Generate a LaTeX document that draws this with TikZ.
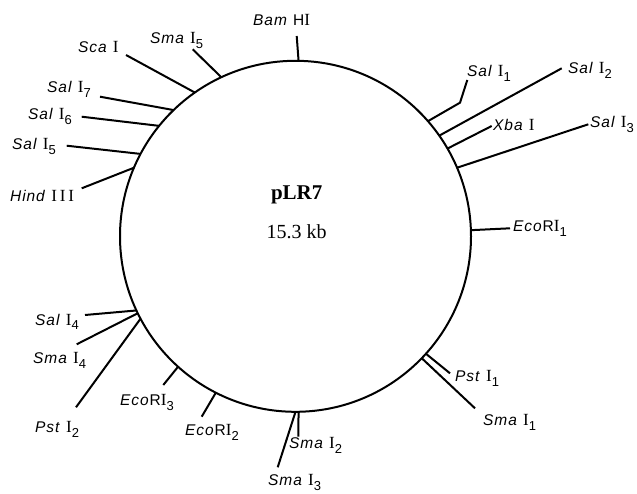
\documentclass[tikz,border=0pt]{standalone}
\usepackage{fontspec}
\setmainfont{Liberation Serif}
\newfontfamily\labfont[LetterSpace=6]{Liberation Sans}
\newfontfamily\romfont[LetterSpace=25,Scale=1.1]{Liberation Serif}
\newcommand{\rI}{{\romfont I}}
\newcommand{\rII}{{\romfont I\,I\,I}}
\newcommand{\subn}[1]{\raisebox{-5pt}{\fontsize{13}{14}\selectfont #1}}
\tikzset{
  tick/.style={line width=2pt},
  lab/.style={font=\labfont\fontsize{15.5}{17}\selectfont, inner sep=0pt, anchor=base west},
  title/.style={font=\fontsize{20}{22}\selectfont, inner sep=0pt}
}
\begin{document}
\begin{tikzpicture}[x=1pt,y=-1pt]
\useasboundingbox (0,0) rectangle (637,494);
\node[circle, draw, line width=2pt, minimum size=351pt, inner sep=0pt, outer sep=0pt] (C) at (295.5,236.3) {};
\node[title, font=\bfseries\fontsize{21}{22}\selectfont] (name) at (296.7,195) {pLR7};
\node[title] (size) at (296.7,231.7) {15.3 kb};

% outer ends
\coordinate (eBam) at (296.7,36);
\coordinate (eSma5) at (192.7,49.3);
\coordinate (eSca) at (126,55);
\coordinate (eSal7) at (100,96.7);
\coordinate (eSal6) at (81.7,116.7);
\coordinate (eSal5) at (66.7,145.7);
\coordinate (eHind) at (81.7,188.3);
\coordinate (bSal1) at (460,102.7);
\coordinate (eSal1) at (467.3,80);
\coordinate (eSal2) at (561.7,68.3);
\coordinate (eXba) at (491.7,126);
\coordinate (eSal3) at (588.3,124.3);
\coordinate (eEco1) at (510,228.3);
\coordinate (ePst1) at (450,373.3);
\coordinate (eSma1) at (475,408.3);
\coordinate (eSma2) at (298.3,436.7);
\coordinate (eSma3) at (277.7,467.3);
\coordinate (eEco2) at (201.7,416.7);
\coordinate (eEco3) at (163.3,385);
\coordinate (ePst2) at (76,407.3);
\coordinate (eSma4) at (76.7,344.3);
\coordinate (eSal4) at (85,315);

% ticks
\draw[tick] (C.89.6) -- (eBam);
\draw[tick] (C.115.7) -- (eSma5);
\draw[tick] (C.125.25) -- (eSca);
\draw[tick] (C.134.0) -- (eSal7);
\draw[tick] (C.141.9) -- (eSal6);
\draw[tick] (C.152.85) -- (eSal5);
\draw[tick] (C.157.6) -- (eHind);
\draw[tick] (C.41.3) -- (bSal1) -- (eSal1);
\draw[tick] (C.35.75) -- (eSal2);
\draw[tick] (C.30.4) -- (eXba);
\draw[tick] (C.23.9) -- (eSal3);
\draw[tick] (C.2.6) -- (eEco1);
\draw[tick] (C.-42.9) -- (ePst1);
\draw[tick] (C.-44.0) -- (eSma1);
\draw[tick] (C.-89.1) -- (eSma2);
\draw[tick] (C.-90.5) -- (eSma3);
\draw[tick] (C.-117.2) -- (eEco2);
\draw[tick] (C.-132.55) -- (eEco3);
\draw[tick] (C.-152.76) -- (ePst2);
\draw[tick] (C.-154.4) -- (eSma4);
\draw[tick] (C.-155.9) -- (eSal4);

% labels
\node[lab] (lBam) at (253,26) {\textit{Bam} H\rI};
\node[lab] (lSma5) at (150,44) {\textit{Sma} \rI\subn{5}};
\node[lab] (lSca) at (78,53) {\textit{Sca} \rI};
\node[lab] (lSal7) at (47,93) {\textit{Sal} \rI\subn{7}};
\node[lab] (lSal6) at (28,120) {\textit{Sal} \rI\subn{6}};
\node[lab] (lSal5) at (12,150) {\textit{Sal} \rI\subn{5}};
\node[lab] (lHind) at (10,202) {\textit{Hind} \rII};
\node[lab] (lSal1) at (467,77) {\textit{Sal} \rI\subn{1}};
\node[lab] (lSal2) at (568,74) {\textit{Sal} \rI\subn{2}};
\node[lab] (lXba) at (493,131) {\textit{Xba} \rI};
\node[lab] (lSal3) at (590,128) {\textit{Sal} \rI\subn{3}};
\node[lab] (lEco1) at (513,232) {\textit{Eco}R\rI\subn{1}};
\node[lab] (lPst1) at (455,381) {\textit{Pst} \rI\subn{1}};
\node[lab] (lSma1) at (483,425) {\textit{Sma} \rI\subn{1}};
\node[lab] (lSma2) at (289,448) {\textit{Sma} \rI\subn{2}};
\node[lab] (lSma3) at (268,485) {\textit{Sma} \rI\subn{3}};
\node[lab] (lEco2) at (185,435) {\textit{Eco}R\rI\subn{2}};
\node[lab] (lEco3) at (120,405) {\textit{Eco}R\rI\subn{3}};
\node[lab] (lPst2) at (35,432) {\textit{Pst} \rI\subn{2}};
\node[lab] (lSma4) at (33,363) {\textit{Sma} \rI\subn{4}};
\node[lab] (lSal4) at (35,325) {\textit{Sal} \rI\subn{4}};
\end{tikzpicture}
\end{document}
